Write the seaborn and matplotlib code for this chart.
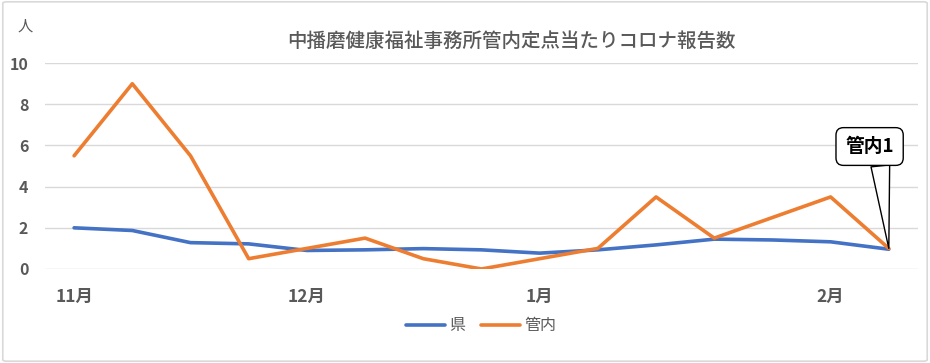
import pandas as pd
import numpy as np
import matplotlib.pyplot as plt
import seaborn as sns
from matplotlib.patches import FancyBboxPatch

# =========================
# DATA
# =========================

weeks = list(range(15))
ken = [2.0, 1.87, 1.28, 1.22, 0.9, 0.93, 0.99, 0.93, 0.77, 0.93, 1.17, 1.45, 1.41, 1.32, 0.96]
kannai = [5.5, 9.0, 5.5, 0.5, 1.0, 1.5, 0.5, 0.0, 0.5, 1.0, 3.5, 1.5, 2.5, 3.5, 1.0]
tick_pos = [0, 4, 8, 13]
tick_labels = ["11月", "12月", "1月", "2月"]

df = pd.DataFrame({
    "week": weeks * 2,
    "value": ken + kannai,
    "series": ["県"] * len(weeks) + ["管内"] * len(weeks),
})

# =========================
# STYLE
# =========================

sns.set_style("white")
plt.rcParams['font.family'] = ['Noto Sans CJK JP', 'DejaVu Sans']
text_color = "#595959"

fig = plt.figure(figsize=(9.3, 3.63), dpi=100)
ax = fig.add_axes([0.0484, 0.259, 0.9386, 0.567])

# outer border
fig.patches.append(FancyBboxPatch(
    (0.003, 0.005), 0.994, 0.99,
    boxstyle="round,pad=0,rounding_size=0.004",
    transform=fig.transFigure, fill=False, edgecolor="#d9d9d9", linewidth=1.2
))

# =========================
# PLOT
# =========================

sns.lineplot(
    data=df, x="week", y="value", hue="series",
    palette={"県": "#4472C4", "管内": "#ED7D31"},
    linewidth=2.6, ax=ax, legend=True
)

ax.set_xlim(-0.5, 14.5)
ax.set_ylim(0, 10)
ax.set_yticks([0, 2, 4, 6, 8, 10])
ax.set_xticks(tick_pos)
ax.set_xticklabels(tick_labels)
ax.yaxis.grid(True, color="#d9d9d9", linewidth=1)
for s in ax.spines.values():
    s.set_visible(False)
ax.tick_params(axis="x", length=0, pad=14, labelsize=12.5, labelcolor=text_color)
ax.tick_params(axis="y", length=0, pad=12, labelsize=11.5, labelcolor=text_color)
for lbl in ax.get_xticklabels() + ax.get_yticklabels():
    lbl.set_fontweight("bold")
ax.set_xlabel("")
ax.set_ylabel("")

ax.set_title("中播磨健康福祉事務所管内定点当たりコロナ報告数",
             fontsize=14, fontweight="medium", color=text_color, pad=12, x=0.534)
fig.text(0.027, 0.928, "人", fontsize=11, color=text_color, ha="center", va="center")

leg = ax.legend(loc="upper center", bbox_to_anchor=(0.5, -0.165), ncol=2,
                frameon=False, fontsize=11.5, handlelength=2.4,
                columnspacing=1.0, handletextpad=0.3)
for t in leg.get_texts():
    t.set_color(text_color)

# callout
ax.annotate(
    "管内1", xy=(14, 1.0), xytext=(13.67, 5.95),
    ha="center", va="center", fontsize=13.5, fontweight="bold", color="black",
    bbox=dict(boxstyle="round,pad=0.5,rounding_size=0.4", fc="white", ec="black", lw=1),
    arrowprops=dict(arrowstyle="wedge,tail_width=1.0", fc="white", ec="black", lw=1,
                    shrinkA=0, shrinkB=0, relpos=(0.68, 0.5)),
    annotation_clip=False,
)

plt.savefig("out.png", dpi=100)
